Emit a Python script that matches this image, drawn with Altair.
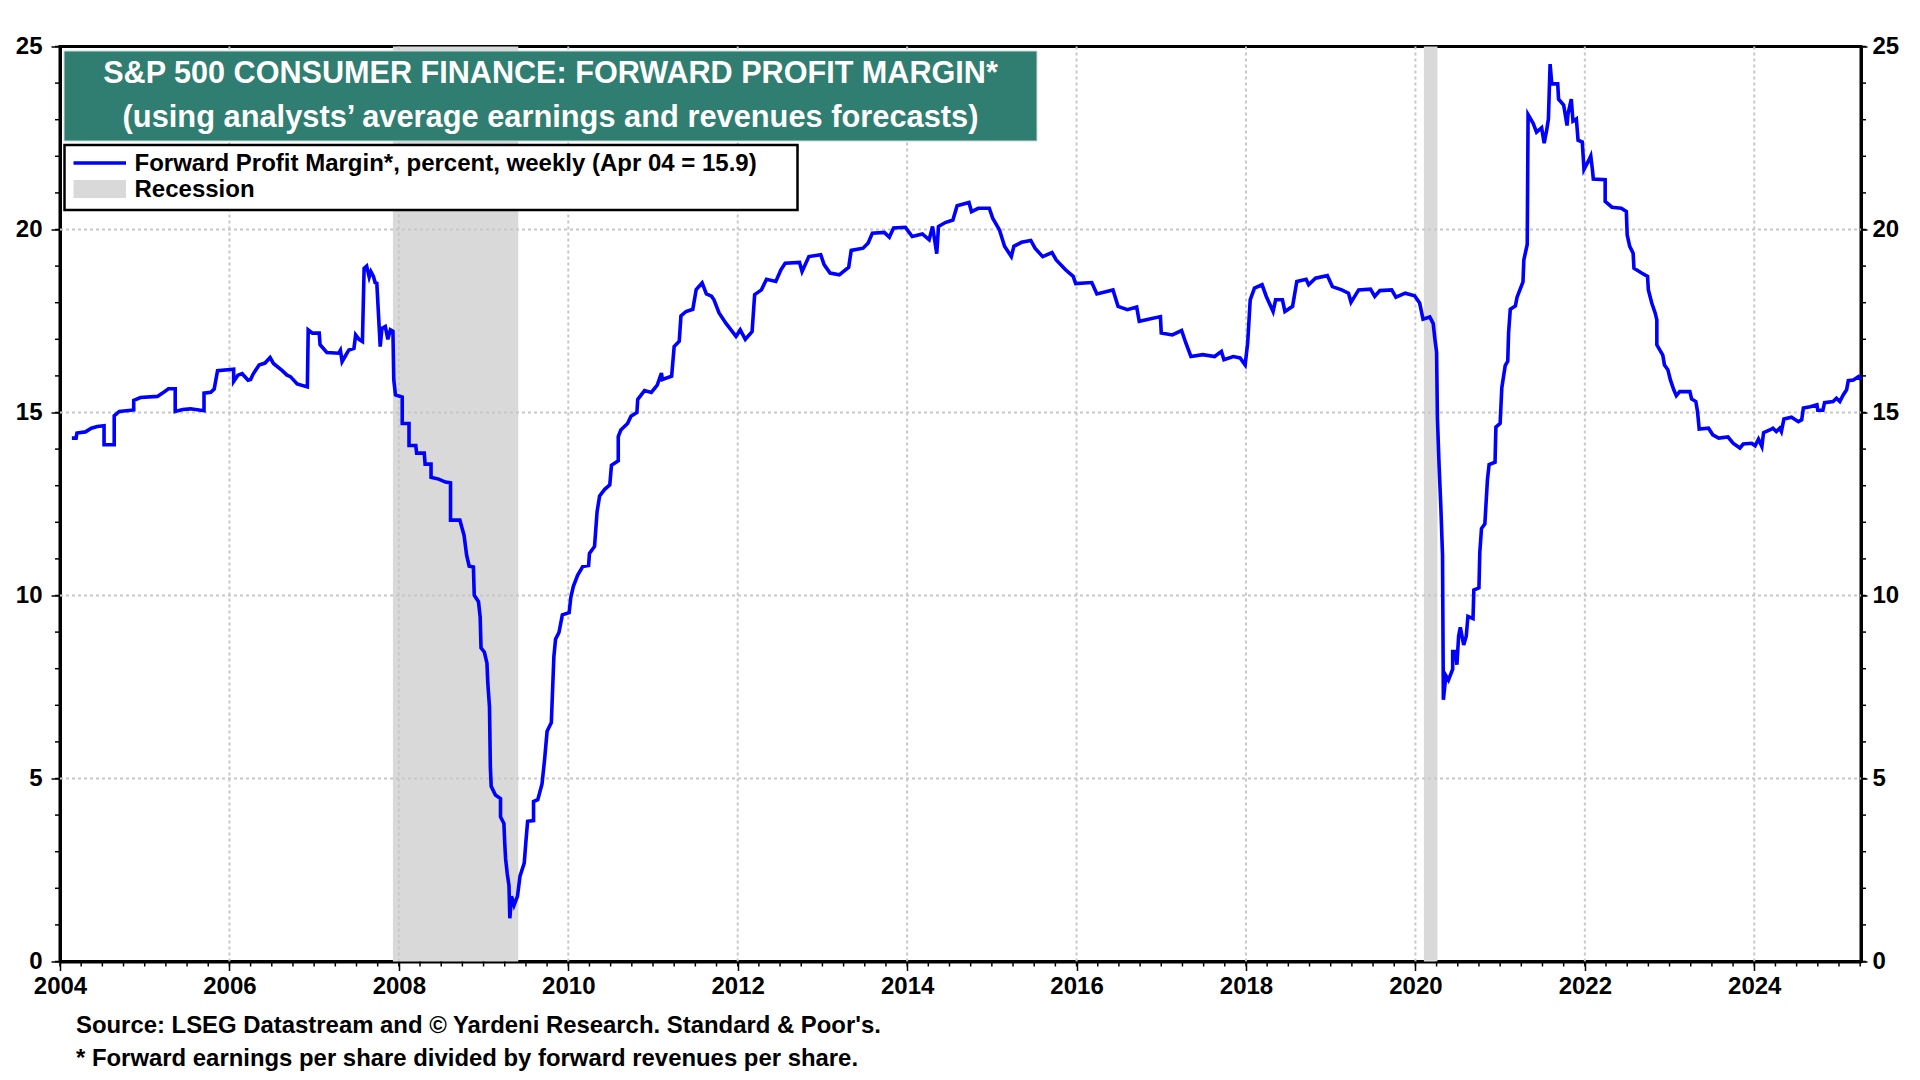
import altair as alt
import pandas as pd

# ---------------- data ----------------
years = [
    2004.14, 2004.19, 2004.20, 2004.30, 2004.37, 2004.44, 2004.52, 2004.52, 2004.64, 2004.64,
    2004.70, 2004.87, 2004.87, 2004.95, 2005.15, 2005.21, 2005.28, 2005.36, 2005.36, 2005.45,
    2005.54, 2005.70, 2005.70, 2005.78, 2005.82, 2005.86, 2006.05, 2006.05, 2006.10, 2006.15,
    2006.22, 2006.25, 2006.28, 2006.35, 2006.42, 2006.48, 2006.52, 2006.62, 2006.68, 2006.72,
    2006.80, 2006.92, 2006.93, 2006.98, 2007.06, 2007.07, 2007.15, 2007.29, 2007.31, 2007.33,
    2007.37, 2007.41, 2007.47, 2007.49, 2007.53, 2007.57, 2007.59, 2007.62, 2007.65, 2007.67,
    2007.70, 2007.72, 2007.74, 2007.78, 2007.80, 2007.84, 2007.87, 2007.90, 2007.93, 2007.94,
    2007.96, 2008.04, 2008.04, 2008.12, 2008.12, 2008.20, 2008.21, 2008.30, 2008.31, 2008.38,
    2008.38, 2008.47, 2008.55, 2008.61, 2008.61, 2008.72, 2008.77, 2008.80, 2008.83, 2008.88,
    2008.89, 2008.94, 2008.96, 2008.97, 2009.01, 2009.04, 2009.05, 2009.07, 2009.08, 2009.09,
    2009.14, 2009.20, 2009.20, 2009.24, 2009.25, 2009.26, 2009.28, 2009.30, 2009.31, 2009.33,
    2009.36, 2009.40, 2009.43, 2009.48, 2009.50, 2009.52, 2009.59, 2009.59, 2009.64, 2009.69,
    2009.72, 2009.75, 2009.80, 2009.81, 2009.83, 2009.85, 2009.89, 2009.93, 2010.01, 2010.03,
    2010.06, 2010.11, 2010.17, 2010.24, 2010.25, 2010.31, 2010.34, 2010.37, 2010.43, 2010.49,
    2010.51, 2010.59, 2010.59, 2010.62, 2010.70, 2010.74, 2010.81, 2010.82, 2010.90, 2010.98,
    2011.05, 2011.10, 2011.11, 2011.22, 2011.25, 2011.31, 2011.33, 2011.39, 2011.47, 2011.51,
    2011.58, 2011.63, 2011.69, 2011.72, 2011.78, 2011.86, 2011.98, 2012.03, 2012.09, 2012.17,
    2012.20, 2012.28, 2012.34, 2012.45, 2012.51, 2012.56, 2012.73, 2012.76, 2012.84, 2012.98,
    2013.02, 2013.09, 2013.20, 2013.31, 2013.34, 2013.48, 2013.54, 2013.59, 2013.73, 2013.79,
    2013.84, 2013.98, 2014.06, 2014.18, 2014.26, 2014.30, 2014.35, 2014.37, 2014.45, 2014.54,
    2014.59, 2014.73, 2014.76, 2014.84, 2014.97, 2015.01, 2015.09, 2015.15, 2015.23, 2015.26,
    2015.35, 2015.46, 2015.51, 2015.60, 2015.71, 2015.76, 2015.87, 2015.96, 2015.99, 2016.18,
    2016.24, 2016.43, 2016.49, 2016.60, 2016.71, 2016.74, 2016.99, 2017.00, 2017.13, 2017.24,
    2017.29, 2017.35, 2017.49, 2017.63, 2017.71, 2017.74, 2017.85, 2017.93, 2017.99, 2018.02,
    2018.05, 2018.10, 2018.19, 2018.24, 2018.32, 2018.35, 2018.43, 2018.46, 2018.55, 2018.60,
    2018.71, 2018.74, 2018.82, 2018.96, 2019.02, 2019.13, 2019.21, 2019.24, 2019.33, 2019.47,
    2019.52, 2019.58, 2019.72, 2019.77, 2019.88, 2019.99, 2020.05, 2020.09, 2020.17, 2020.21,
    2020.23, 2020.25, 2020.26, 2020.28, 2020.30, 2020.32, 2020.33, 2020.36, 2020.39, 2020.44,
    2020.44, 2020.47, 2020.49, 2020.51, 2020.53, 2020.57, 2020.60, 2020.62, 2020.68, 2020.69,
    2020.75, 2020.76, 2020.78, 2020.82, 2020.85, 2020.87, 2020.94, 2020.95, 2021.00, 2021.02,
    2021.06, 2021.09, 2021.10, 2021.12, 2021.18, 2021.20, 2021.23, 2021.27, 2021.28, 2021.32,
    2021.33, 2021.39, 2021.43, 2021.49, 2021.52, 2021.55, 2021.57, 2021.59, 2021.61, 2021.68,
    2021.69, 2021.75, 2021.79, 2021.80, 2021.84, 2021.86, 2021.90, 2021.92, 2021.97, 2021.99,
    2022.04, 2022.07, 2022.09, 2022.10, 2022.24, 2022.24, 2022.32, 2022.43, 2022.49, 2022.50,
    2022.53, 2022.57, 2022.58, 2022.67, 2022.74, 2022.75, 2022.79, 2022.83, 2022.85, 2022.85,
    2022.92, 2022.94, 2022.98, 2023.01, 2023.05, 2023.08, 2023.12, 2023.24, 2023.26, 2023.31,
    2023.33, 2023.35, 2023.46, 2023.51, 2023.58, 2023.69, 2023.75, 2023.83, 2023.87, 2023.97,
    2024.01, 2024.05, 2024.09, 2024.11, 2024.19, 2024.22, 2024.26, 2024.30, 2024.32, 2024.35,
    2024.44, 2024.52, 2024.56, 2024.58, 2024.66, 2024.74, 2024.75, 2024.81, 2024.83, 2024.93,
    2024.97, 2025.01, 2025.05, 2025.09, 2025.11, 2025.17, 2025.23, 2025.26,
]
margin = [
    14.30, 14.30, 14.44, 14.47, 14.57, 14.62, 14.64, 14.12, 14.12, 14.91,
    15.03, 15.07, 15.33, 15.41, 15.44, 15.53, 15.65, 15.65, 15.03, 15.08,
    15.10, 15.05, 15.53, 15.55, 15.64, 16.14, 16.18, 15.85, 16.02, 16.06,
    15.88, 15.90, 16.05, 16.30, 16.35, 16.50, 16.34, 16.15, 16.02, 15.98,
    15.78, 15.70, 17.26, 17.17, 17.17, 16.85, 16.64, 16.62, 16.70, 16.39,
    16.55, 16.71, 16.75, 17.12, 17.00, 16.94, 18.94, 19.00, 18.70, 18.85,
    18.72, 18.55, 18.53, 16.80, 17.30, 17.35, 17.00, 17.26, 17.22, 15.90,
    15.48, 15.42, 14.70, 14.70, 14.10, 14.10, 13.89, 13.89, 13.59, 13.59,
    13.23, 13.18, 13.10, 13.08, 12.06, 12.06, 11.64, 11.10, 10.80, 10.78,
    10.01, 9.83, 9.41, 8.57, 8.45, 8.15, 7.61, 6.95, 5.33, 4.79,
    4.55, 4.45, 3.95, 3.77, 3.23, 2.81, 2.39, 2.08, 1.18, 1.78,
    1.54, 1.78, 2.33, 2.69, 3.28, 3.83, 3.85, 4.37, 4.42, 4.85,
    5.51, 6.29, 6.53, 7.13, 8.33, 8.81, 8.99, 9.47, 9.53, 9.95,
    10.25, 10.55, 10.79, 10.82, 11.15, 11.34, 12.29, 12.72, 12.90, 13.02,
    13.56, 13.68, 14.34, 14.52, 14.70, 14.90, 15.00, 15.36, 15.60, 15.55,
    15.75, 16.08, 15.90, 15.99, 16.80, 16.95, 17.64, 17.76, 17.82, 18.36,
    18.54, 18.24, 18.18, 18.08, 17.72, 17.44, 17.08, 17.26, 17.00, 17.21,
    18.22, 18.35, 18.64, 18.58, 18.90, 19.08, 19.10, 18.85, 19.26, 19.31,
    19.04, 18.81, 18.76, 18.97, 19.43, 19.49, 19.63, 19.90, 19.92, 19.79,
    20.04, 20.06, 19.81, 19.88, 19.72, 20.08, 19.34, 20.08, 20.19, 20.26,
    20.65, 20.74, 20.49, 20.58, 20.58, 20.31, 19.99, 19.54, 19.26, 19.54,
    19.65, 19.70, 19.49, 19.26, 19.37, 19.17, 18.90, 18.72, 18.52, 18.55,
    18.24, 18.35, 17.90, 17.81, 17.88, 17.49, 17.62, 17.17, 17.12, 17.24,
    16.90, 16.53, 16.58, 16.53, 16.67, 16.44, 16.53, 16.49, 16.30, 16.90,
    18.08, 18.40, 18.49, 18.17, 17.76, 18.08, 18.08, 17.76, 17.90, 18.58,
    18.64, 18.49, 18.67, 18.74, 18.44, 18.35, 18.26, 18.01, 18.35, 18.37,
    18.17, 18.33, 18.35, 18.15, 18.26, 18.19, 17.99, 17.55, 17.61, 17.43,
    17.01, 16.65, 14.84, 13.52, 12.44, 11.11, 7.15, 7.81, 7.69, 7.99,
    8.47, 8.47, 8.11, 8.89, 9.13, 8.65, 8.89, 9.43, 9.37, 10.15,
    10.21, 11.17, 11.83, 11.96, 13.16, 13.58, 13.64, 14.60, 14.70, 15.68,
    16.28, 16.40, 17.18, 17.82, 17.91, 18.15, 18.33, 18.57, 19.17, 19.59,
    23.14, 22.90, 22.66, 22.78, 22.36, 22.72, 23.02, 24.52, 23.98, 23.98,
    23.56, 23.40, 22.84, 23.14, 23.56, 22.96, 23.02, 22.44, 22.39, 21.64,
    21.86, 22.01, 21.63, 21.38, 21.36, 20.77, 20.61, 20.58, 20.49, 19.85,
    19.54, 19.35, 18.94, 18.81, 18.72, 18.35, 17.99, 17.72, 17.53, 16.85,
    16.57, 16.30, 16.17, 15.89, 15.62, 15.46, 15.57, 15.57, 15.37, 15.30,
    15.03, 14.55, 14.57, 14.39, 14.30, 14.33, 14.16, 14.03, 14.14, 14.16,
    14.09, 14.27, 14.07, 14.45, 14.53, 14.57, 14.48, 14.57, 14.48, 14.82,
    14.87, 14.75, 14.80, 15.12, 15.16, 15.21, 15.06, 15.06, 15.27, 15.30,
    15.39, 15.30, 15.48, 15.62, 15.87, 15.89, 15.98, 15.90,
]
rec_start = [2007.93, 2020.10]
rec_end = [2009.41, 2020.26]

x_major = [2004, 2006, 2008, 2010, 2012, 2014, 2016, 2018, 2020, 2022, 2024]
x_grid = [2006, 2008, 2010, 2012, 2014, 2016, 2018, 2020, 2022, 2024]
y_major = [0, 5, 10, 15, 20, 25]
y_grid = [5, 10, 15, 20]
y_minor = list(range(0, 26))
x_minor = [2004 + 0.25 * i for i in range(86)]

title_1 = "S&P 500 CONSUMER FINANCE: FORWARD PROFIT MARGIN*"
title_2 = "(using analysts\u2019 average earnings and revenues forecasts)"
legend_1 = "Forward Profit Margin*, percent, weekly (Apr 04 = 15.9)"
legend_2 = "Recession"
note_1 = "Source: LSEG Datastream and \u00a9 Yardeni Research. Standard & Poor's."
note_2 = "* Forward earnings per share divided by forward revenues per share."

# ---------------- styling ----------------
W, H = 1801, 915
FONT = "Liberation Sans"
GREEN = "#2f7e71"
BLUE = "#0000ff"
GRAY = "#d9d9d9"
GRID = "#c8c8c8"

xscale = alt.Scale(domain=[2004, 2025.26], nice=False, zero=False)
yscale = alt.Scale(domain=[0, 25], nice=False, zero=True)

xaxis = alt.Axis(values=x_major, format="d", grid=False, tickSize=9, tickWidth=1.5,
                 tickColor="black", domainColor="black", domainWidth=3,
                 labelFont=FONT, labelFontSize=24, labelFontWeight="bold",
                 labelColor="black", labelPadding=4, labelFlush=False,
                 labelOverlap=False, title=None)
yaxis_left = alt.Axis(values=y_major, orient="left", grid=False, tickSize=9, tickWidth=1.5,
                      tickColor="black", domainColor="black", domainWidth=3,
                      labelFont=FONT, labelFontSize=24, labelFontWeight="bold",
                      labelColor="black", labelPadding=9, labelOverlap=False, title=None)
yaxis_right = alt.Axis(values=y_major, orient="right", grid=False, tickSize=6, tickWidth=1.5,
                       tickColor="black", domainColor="black", domainWidth=3,
                       labelFont=FONT, labelFontSize=24, labelFontWeight="bold",
                       labelColor="black", labelPadding=5, labelOverlap=False, title=None)


def one(**kw):
    return pd.DataFrame({k: [v] for k, v in kw.items()})


rec = alt.Chart(pd.DataFrame({"s": rec_start, "e": rec_end})).mark_rect(color=GRAY).encode(
    x=alt.X("s:Q", scale=xscale, axis=xaxis), x2="e:Q",
    y=alt.value(0), y2=alt.value(H))

gridv = alt.Chart(pd.DataFrame({"g": x_grid})).mark_rule(
    color=GRID, strokeDash=[3, 3], strokeWidth=2).encode(
    x=alt.X("g:Q", scale=xscale, axis=xaxis), y=alt.value(0), y2=alt.value(H))

gridh = alt.Chart(pd.DataFrame({"v": y_grid})).mark_rule(
    color=GRID, strokeDash=[3, 3], strokeWidth=2).encode(
    y=alt.Y("v:Q", scale=yscale, axis=yaxis_right), x=alt.value(0), x2=alt.value(W))

line_df = pd.DataFrame({"year": years, "margin": margin, "i": list(range(len(years)))})
line = alt.Chart(line_df).mark_line(color=BLUE, strokeWidth=3.6).encode(
    x=alt.X("year:Q", scale=xscale, axis=xaxis),
    y=alt.Y("margin:Q", scale=yscale, axis=yaxis_left),
    order=alt.Order("i:Q"))

xminor = alt.Chart(pd.DataFrame({"q": x_minor})).mark_rule(color="black", strokeWidth=1.5).encode(
    x=alt.X("q:Q", scale=xscale, axis=xaxis), y=alt.value(H), y2=alt.value(H + 5))
yminor_l = alt.Chart(pd.DataFrame({"m": y_minor})).mark_rule(color="black", strokeWidth=1.5).encode(
    y=alt.Y("m:Q", scale=yscale, axis=None), x=alt.value(-5), x2=alt.value(0))
yminor_r = alt.Chart(pd.DataFrame({"m": y_minor})).mark_rule(color="black", strokeWidth=1.5).encode(
    y=alt.Y("m:Q", scale=yscale, axis=None), x=alt.value(W), x2=alt.value(W + 5))

tbox = alt.Chart(one(a=0)).mark_rect(fill=GREEN, stroke="#c9ddd8", strokeWidth=1).encode(
    x=alt.value(4), x2=alt.value(977), y=alt.value(4.5), y2=alt.value(94.5))
t1 = alt.Chart(one(t=title_1)).mark_text(font=FONT, fontSize=30.6, fontWeight="bold", color="white",
                                        align="center", baseline="middle").encode(
    text="t:N", x=alt.value(490.5), y=alt.value(27))
t2 = alt.Chart(one(t=title_2)).mark_text(font=FONT, fontSize=30.8, fontWeight="bold", color="white",
                                        align="center", baseline="middle").encode(
    text="t:N", x=alt.value(490.5), y=alt.value(71))

lbox = alt.Chart(one(a=0)).mark_rect(fill="white", stroke="black", strokeWidth=2.5).encode(
    x=alt.value(4.5), x2=alt.value(737.5), y=alt.value(98.5), y2=alt.value(163.5))
lline = alt.Chart(one(a=0)).mark_rule(color=BLUE, strokeWidth=3.5).encode(
    x=alt.value(13.5), x2=alt.value(66), y=alt.value(116.5))
lswatch = alt.Chart(one(a=0)).mark_rect(fill=GRAY).encode(
    x=alt.value(13.5), x2=alt.value(66), y=alt.value(133.5), y2=alt.value(151.5))
l1 = alt.Chart(one(t=legend_1)).mark_text(font=FONT, fontSize=24, fontWeight="bold", color="black",
                                         align="left", baseline="middle").encode(
    text="t:N", x=alt.value(74.5), y=alt.value(117))
l2 = alt.Chart(one(t=legend_2)).mark_text(font=FONT, fontSize=24, fontWeight="bold", color="black",
                                         align="left", baseline="middle").encode(
    text="t:N", x=alt.value(74.5), y=alt.value(143.5))

n1 = alt.Chart(one(t=note_1)).mark_text(font=FONT, fontSize=23.9, fontWeight="bold", color="black",
                                       align="left", baseline="middle").encode(
    text="t:N", x=alt.value(16), y=alt.value(979.5))
n2 = alt.Chart(one(t=note_2)).mark_text(font=FONT, fontSize=23.9, fontWeight="bold", color="black",
                                       align="left", baseline="middle").encode(
    text="t:N", x=alt.value(16), y=alt.value(1012.5))

chart = alt.layer(
    rec, gridv, gridh, line, xminor, yminor_l, yminor_r,
    tbox, t1, t2, lbox, lline, lswatch, l1, l2, n1, n2
).resolve_scale(y="independent").resolve_axis(y="independent").properties(
    width=W, height=H,
    autosize=alt.AutoSizeParams(type="none"),
    padding={"left": 52, "top": 38.5, "right": 50, "bottom": 110},
    background="white",
).configure_view(stroke="black", strokeWidth=3)

chart.save("out.html", embed_options={"renderer": "svg", "actions": False})
